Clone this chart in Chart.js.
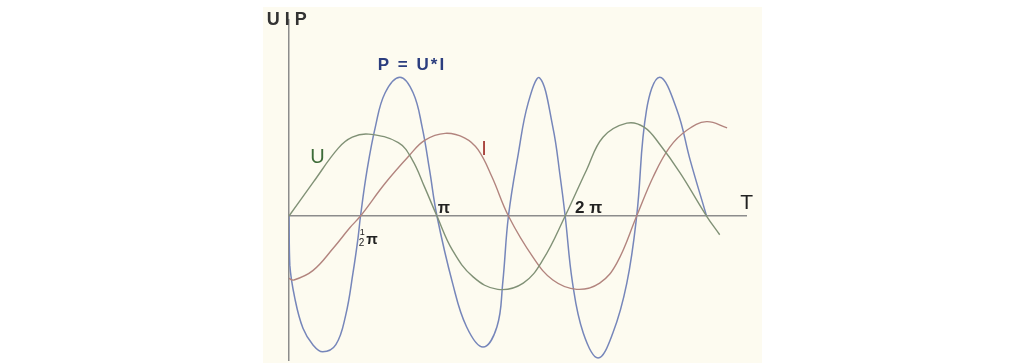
<!DOCTYPE html>
<html>
<head>
<meta charset="utf-8">
<script src="https://cdn.jsdelivr.net/npm/chart.js@4/dist/chart.umd.min.js"></script>
<style>
  html, body { margin: 0; padding: 0; background: #ffffff; }
  canvas { display: block; }
</style>
</head>
<body>
<canvas id="wave_chart" width="1013" height="363"></canvas>
<script>
// phase in degrees (pi = 180)
const uPhase = [0, 30, 60, 77, 97, 133, 150, 165, 180, 199, 224, 254, 285, 309, 336, 362, 382, 411, 432, 451, 476, 508, 524];
const uValues = [0, 0.44, 0.87, 1.01, 1.05, 0.94, 0.72, 0.37, 0, -0.44, -0.78, -0.94, -0.86, -0.56, 0, 0.59, 1.01, 1.19, 1.14, 0.92, 0.55, 0, -0.24];

const iPhase = [0, 6, 29, 54, 74, 87, 117, 145, 165, 190, 214, 230, 247, 267, 297, 321, 350, 378, 399, 423, 443, 463, 484, 508, 533];
const iValues = [-0.80, -0.82, -0.70, -0.41, -0.15, 0, 0.42, 0.76, 0.97, 1.06, 1.00, 0.85, 0.50, 0, -0.53, -0.82, -0.94, -0.86, -0.60, 0, 0.50, 0.88, 1.10, 1.21, 1.13];

const pPhase = [0, 1, 7, 17, 29, 41, 57, 69, 78, 84, 87, 95, 105, 117, 135, 151, 162, 171, 180, 199, 216, 236, 253, 260, 267, 279, 291, 305, 321, 330, 336, 345, 358, 376, 394, 411, 423, 435, 451, 472, 488, 508];
const pValues = [0, -0.63, -1.05, -1.44, -1.65, -1.74, -1.65, -1.27, -0.72, -0.28, 0, 0.59, 1.14, 1.58, 1.78, 1.58, 1.14, 0.59, 0, -0.86, -1.42, -1.68, -1.42, -0.86, 0, 0.80, 1.45, 1.77, 1.14, 0.50, 0, -0.86, -1.50, -1.82, -1.50, -0.86, 0, 1.36, 1.78, 1.36, 0.72, 0];

const tickLabels = ['π', '2 π'];
const tickPhase = [181, 348];

const toPoints = (xs, ys) => xs.map((x, i) => ({ x: x, y: ys[i] }));

// texts placed in data coordinates
const notes = [
    { text: 'U I P', x: -27, y: 2.45, color: '#333333', font: 'bold 18px "Liberation Sans", Arial, sans-serif' },
    { text: 'P = U*I', x: 108, y: 1.87, color: '#2b3d7e', font: 'bold 17px "Liberation Sans", Arial, sans-serif', spacing: '2px' },
    { text: 'U', x: 26, y: 0.68, color: '#3d6b38', font: '20px "Liberation Sans", Arial, sans-serif' },
    { text: 'I', x: 234, y: 0.78, color: '#a8403a', font: '20px "Liberation Sans", Arial, sans-serif' },
    { text: tickLabels[0], x: tickPhase[0], y: 0.04, color: '#222222', font: 'bold 16px "Liberation Sans", Arial, sans-serif' },
    { text: tickLabels[1], x: tickPhase[1], y: 0.04, color: '#222222', font: 'bold 17px "Liberation Sans", Arial, sans-serif' },
    { text: 'T', x: 549, y: 0.09, color: '#222222', font: '21px "Liberation Sans", Arial, sans-serif' },
    { text: '1', x: 86, y: -0.24, color: '#222222', font: '9px "Liberation Sans", Arial, sans-serif' },
    { text: '2', x: 85, y: -0.38, color: '#222222', font: '10px "Liberation Sans", Arial, sans-serif' },
    { text: 'π', x: 94, y: -0.36, color: '#222222', font: 'bold 15px "Liberation Sans", Arial, sans-serif' }
];

const paperPlugin = {
    id: 'paper',
    beforeDraw: function (chart) {
        let ctx = chart.ctx;
        ctx.save();
        ctx.fillStyle = '#fdfbf0';
        ctx.fillRect(263, 7, 499, 356);
        ctx.restore();
    }
};

const notesPlugin = {
    id: 'notes',
    afterDraw: function (chart) {
        let ctx = chart.ctx;
        let xs = chart.scales.x;
        let ys = chart.scales.y;
        ctx.save();
        ctx.textAlign = 'left';
        ctx.textBaseline = 'alphabetic';
        notes.forEach(function (n) {
            ctx.font = n.font;
            ctx.fillStyle = n.color;
            ctx.letterSpacing = n.spacing || '0px';
            ctx.fillText(n.text, xs.getPixelForValue(n.x), ys.getPixelForValue(n.y));
        });
        ctx.restore();
    }
};

const axisStyle = {
    grid: { display: false },
    ticks: { display: false },
    border: { display: true, color: '#8c8c8c', width: 1.5 }
};

let ctx = document.getElementById('wave_chart').getContext('2d');
let waveChart = new Chart(ctx, {
    type: 'line',
    data: {
        datasets: [
            {
                label: 'U',
                data: toPoints(uPhase, uValues),
                borderColor: 'rgba(128, 145, 118, 1)',
                borderWidth: 1.4
            },
            {
                label: 'I',
                data: toPoints(iPhase, iValues),
                borderColor: 'rgba(178, 132, 126, 1)',
                borderWidth: 1.4
            },
            {
                label: 'P',
                data: toPoints(pPhase, pValues),
                borderColor: 'rgba(118, 134, 186, 1)',
                borderWidth: 1.5
            }
        ]
    },
    options: {
        responsive: false,
        devicePixelRatio: 1,
        animation: false,
        layout: {
            padding: { left: 289, right: 267, top: 20, bottom: 3 }
        },
        elements: {
            point: { radius: 0 },
            line: { tension: 0.4, fill: false }
        },
        plugins: {
            legend: { display: false },
            tooltip: { enabled: false }
        },
        scales: {
            x: Object.assign({ type: 'linear', min: 0, max: 556, position: { y: 0 } }, axisStyle),
            y: Object.assign({ type: 'linear', min: -1.846, max: 2.513, position: { x: 0 } }, axisStyle)
        }
    },
    plugins: [paperPlugin, notesPlugin]
});
</script>
</body>
</html>
